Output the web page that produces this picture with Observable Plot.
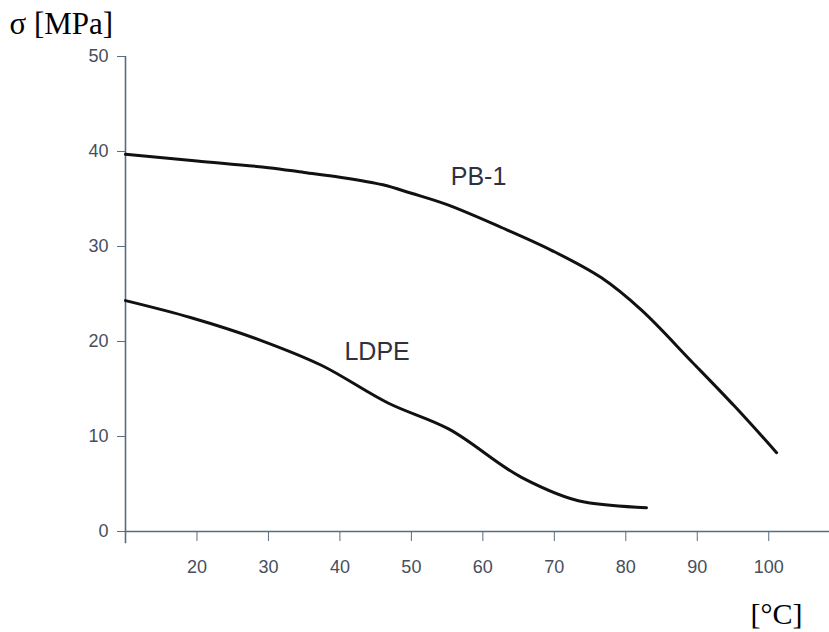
<!DOCTYPE html>
<html>
<head>
<meta charset="utf-8">
<script src="https://cdn.jsdelivr.net/npm/d3@7"></script>
<script src="https://cdn.jsdelivr.net/npm/@observablehq/plot@0.6"></script>
<style>
  html, body { margin: 0; padding: 0; background: #fff; }
  #chart { width: 829px; height: 632px; }
</style>
</head>
<body>
<div id="chart"></div>
<script>
// Temperature [°C] and stress [MPa]
const pbTemp  = [10, 20, 30, 35, 40, 46, 50, 55, 62.6, 69.6, 76.6, 82.2, 89.2, 95.2, 101.1];
const pbSigma = [39.7, 39.0, 38.3, 37.8, 37.3, 36.5, 35.6, 34.4, 32.0, 29.6, 26.7, 23.3, 17.9, 13.2, 8.3];
const ldpeTemp  = [10, 19.2, 29, 37.4, 46.8, 55.2, 65.4, 74.2, 82.9];
const ldpeSigma = [24.3, 22.5, 20.1, 17.5, 13.5, 10.8, 5.7, 3.1, 2.5];
const xTicks = [20, 30, 40, 50, 60, 70, 80, 90, 100];
const yTicks = [0, 10, 20, 30, 40, 50];
const seriesLabels = [
  {name: "PB-1", t: 59.4, s: 37.3},
  {name: "LDPE", t: 45.2, s: 18.9}
];
const yTitle = "σ [MPa]";
const xTitle = "[°C]";

const pb = pbTemp.map((t, i) => ({t, s: pbSigma[i]}));
const ldpe = ldpeTemp.map((t, i) => ({t, s: ldpeSigma[i]}));

const axisColor = "#5a6b80";
const tickText = "#474e5c";

const chart = Plot.plot({
  width: 829,
  height: 632,
  marginTop: 56,
  marginBottom: 101,
  marginLeft: 125,
  marginRight: 0,
  style: {background: "#fff", fontFamily: "'Liberation Sans', Arial, sans-serif"},
  x: {domain: [10, 108.5]},
  y: {domain: [0, 50]},
  marks: [
    Plot.axisX({ticks: xTicks, tickSize: 10, tickPadding: 19, fontSize: 18, stroke: axisColor, color: tickText, label: null, tickFormat: d => String(d)}),
    Plot.axisY({ticks: yTicks, tickSize: 8, tickPadding: 9, fontSize: 18, stroke: axisColor, color: tickText, label: null, tickFormat: d => String(d)}),
    Plot.ruleX([10], {y1: -1.3, y2: 50, stroke: axisColor, strokeWidth: 1.6}),
    Plot.ruleY([0], {x1: 10, x2: 108.5, stroke: axisColor, strokeWidth: 1.6}),
    Plot.line(pb, {x: "t", y: "s", curve: "catmull-rom", stroke: "#111", strokeWidth: 3}),
    Plot.line(ldpe, {x: "t", y: "s", curve: "monotone-x", stroke: "#111", strokeWidth: 3}),
    Plot.text(seriesLabels, {x: "t", y: "s", text: "name", fontSize: 25, fill: "#30303f", textAnchor: "middle"}),
    Plot.text([yTitle], {frameAnchor: "top-left", dx: -116, dy: -45, textAnchor: "start", lineAnchor: "top", fontSize: 31, fontFamily: "'Liberation Serif', 'Times New Roman', serif", fill: "#000"}),
    Plot.text([xTitle], {frameAnchor: "bottom-right", dx: -27, dy: 92, textAnchor: "end", lineAnchor: "bottom", fontSize: 30, fontFamily: "'Liberation Serif', 'Times New Roman', serif", fill: "#000"})
  ]
});
document.getElementById("chart").appendChild(chart);
</script>
</body>
</html>
